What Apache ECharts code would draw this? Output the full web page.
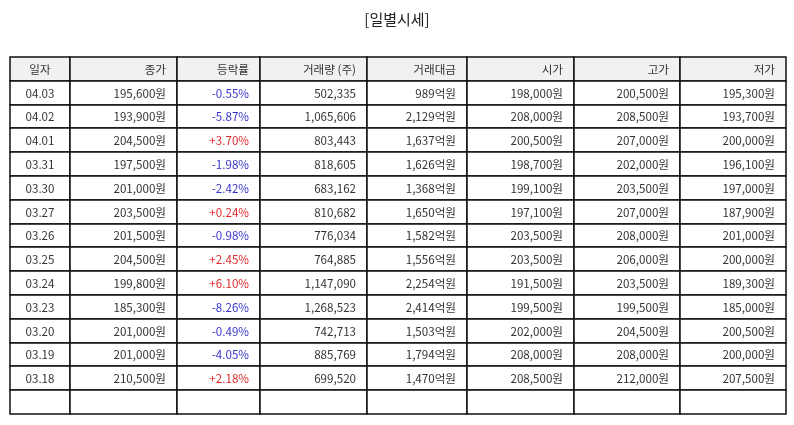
<!DOCTYPE html>
<html>
<head>
<meta charset="utf-8">
<script src="https://cdn.jsdelivr.net/npm/echarts@6/dist/echarts.min.js"></script>
<style>html,body{margin:0;padding:0;background:#fff}#c{width:794px;height:425px}</style>
</head>
<body>
<div id="c"></div>
<script>
var headers = ['일자','종가','등락률','거래량 (주)','거래대금','시가','고가','저가'];
var dates = ['04.03','04.02','04.01','03.31','03.30','03.27','03.26','03.25','03.24','03.23','03.20','03.19','03.18'];
var closePrice = [195600,193900,204500,197500,201000,203500,201500,204500,199800,185300,201000,201000,210500];
var changeRate = [-0.55,-5.87,3.70,-1.98,-2.42,0.24,-0.98,2.45,6.10,-8.26,-0.49,-4.05,2.18];
var volume = [502335,1065606,803443,818605,683162,810682,776034,764885,1147090,1268523,742713,885769,699520];
var amountEok = [989,2129,1637,1626,1368,1650,1582,1556,2254,2414,1503,1794,1470];
var openPrice = [198000,208000,200500,198700,199100,197100,203500,203500,191500,199500,202000,208000,208500];
var highPrice = [200500,208500,207000,202000,203500,207000,208000,206000,203500,199500,204500,208000,212000];
var lowPrice = [195300,193700,200000,196100,197000,187900,201000,200000,189300,185000,200500,200000,207500];

// layout (column widths in px-like units)
var colWidths = [60,107,83,107,100,107,106,106];
var colEdges = [0];
colWidths.forEach(function(w){ colEdges.push(colEdges[colEdges.length-1] + w); });
var totalW = colEdges[colEdges.length-1];
var nRows = dates.length + 2;

function fmt(n){ return n.toString().replace(/\B(?=(\d{3})+(?!\d))/g, ','); }
function fmtRate(r){ return (r > 0 ? '+' : '') + r.toFixed(2) + '%'; }

var cellTexts = [];
var cellColors = [];
var cellData = [];
function addCell(col,row,text,color){
  cellData.push([col,row]);
  cellTexts.push(text);
  cellColors.push(color);
}
headers.forEach(function(h,i){ addCell(i,0,h,'#333'); });
dates.forEach(function(d,r){
  var row = r + 1;
  addCell(0,row,d,'#333');
  addCell(1,row,fmt(closePrice[r])+'원','#333');
  addCell(2,row,fmtRate(changeRate[r]), changeRate[r] < 0 ? '#3535cc' : '#e02828');
  addCell(3,row,fmt(volume[r]),'#333');
  addCell(4,row,fmt(amountEok[r])+'억원','#333');
  addCell(5,row,fmt(openPrice[r])+'원','#333');
  addCell(6,row,fmt(highPrice[r])+'원','#333');
  addCell(7,row,fmt(lowPrice[r])+'원','#333');
});
for (var c = 0; c < headers.length; c++) addCell(c, nRows-1, '', '#333');

var chart = echarts.init(document.getElementById('c'), null, {renderer:'canvas'});
chart.setOption({
  animation: false,
  title: {
    text: '[일별시세]', left: 'center', top: 7,
    textStyle: {fontFamily: 'Noto Sans CJK KR', fontSize: 15, fontWeight: 'normal', color: '#222'}
  },
  grid: {left: 10, right: 8, top: 57, bottom: 11},
  xAxis: {type: 'value', min: 0, max: totalW, show: false},
  yAxis: {type: 'value', min: 0, max: nRows, inverse: true, show: false},
  series: [{
    type: 'custom',
    data: cellData,
    renderItem: function(params, api){
      var col = api.value(0), row = api.value(1);
      var p0 = api.coord([colEdges[col], row]);
      var p1 = api.coord([colEdges[col+1], row+1]);
      var x0 = Math.round(p0[0]), y0 = Math.round(p0[1]);
      var x1 = Math.round(p1[0]), y1 = Math.round(p1[1]);
      var idx = params.dataIndex;
      var centered = col === 0;
      return {
        type: 'group',
        children: [{
          type: 'rect',
          shape: {x: x0, y: y0, width: x1-x0, height: y1-y0},
          style: {fill: row === 0 ? '#f1f1f1' : '#fff', stroke: '#111', lineWidth: 1.5}
        }, {
          type: 'text',
          style: {
            text: cellTexts[idx],
            x: centered ? (x0+x1)/2 : x1 - 11,
            y: (y0+y1)/2 + 0.5,
            align: centered ? 'center' : 'right',
            verticalAlign: 'middle',
            fill: cellColors[idx],
            font: '11.6px "Noto Sans CJK KR"'
          }
        }]
      };
    }
  }]
});
</script>
</body>
</html>
